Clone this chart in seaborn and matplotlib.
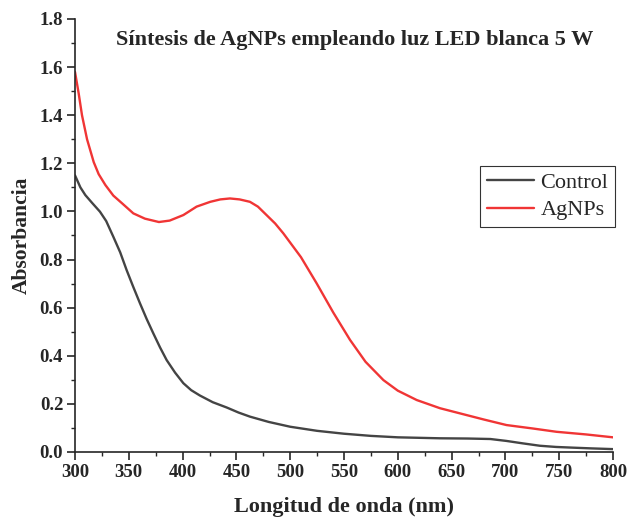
import matplotlib
matplotlib.use("Agg")
import matplotlib.pyplot as plt
from matplotlib.ticker import MultipleLocator, FormatStrFormatter
import seaborn as sns
import pandas as pd

# Data
control_wl = [300, 305, 309.6, 316, 323.2, 329, 335.6, 342, 348, 354, 360.4, 366.6, 372.8, 379,
              385.2, 393, 400.7, 408, 416, 428, 441, 452, 462.6, 480, 500, 525, 550, 575, 600,
              639, 665, 686, 701, 716, 732, 747, 763, 780, 800]
control_abs = [1.15, 1.10, 1.068, 1.035, 0.999, 0.96, 0.895, 0.83, 0.756, 0.688, 0.618, 0.553,
               0.493, 0.435, 0.382, 0.33, 0.286, 0.257, 0.235, 0.207, 0.185, 0.164, 0.147, 0.125,
               0.105, 0.088, 0.076, 0.067, 0.061, 0.057, 0.056, 0.054, 0.046, 0.036, 0.026,
               0.021, 0.018, 0.015, 0.012]

agnps_wl = [300, 303.4, 306.5, 311.2, 317.4, 322, 328.2, 335.6, 343.7, 354.2, 365, 378, 388,
            400.7, 413, 425.7, 435, 444, 453, 462.6, 470, 478, 486, 493.6, 510, 524.6, 540,
            555.6, 570, 586.6, 600, 617.6, 639.2, 660, 680, 701, 725, 747.5, 775, 800]
agnps_abs = [1.58, 1.491, 1.40, 1.30, 1.205, 1.155, 1.11, 1.066, 1.034, 0.992, 0.97, 0.956,
             0.962, 0.985, 1.02, 1.040, 1.05, 1.054, 1.05, 1.040, 1.02, 0.985, 0.95, 0.909,
             0.81, 0.701, 0.58, 0.466, 0.375, 0.299, 0.255, 0.216, 0.182, 0.158, 0.135, 0.112,
             0.098, 0.084, 0.073, 0.061]

df = pd.concat([
    pd.DataFrame({"wl": control_wl, "abs": control_abs, "serie": "Control"}),
    pd.DataFrame({"wl": agnps_wl, "abs": agnps_abs, "serie": "AgNPs"}),
])

sns.set_style("ticks")
plt.rcParams['font.family'] = ['Liberation Serif', 'DejaVu Serif']

fig = plt.figure(figsize=(6.28, 5.2), dpi=100)
ax = fig.add_axes([75/628, 1 - 452/520, (613-75)/628, (452-19)/520])

sns.lineplot(data=df, x="wl", y="abs", hue="serie",
             palette={"Control": "#444444", "AgNPs": "#f03535"},
             linewidth=1.7, ax=ax, sort=False)

ax.set_xlim(300, 800)
ax.set_ylim(0, 1.8)
ax.xaxis.set_major_locator(MultipleLocator(50))
ax.xaxis.set_minor_locator(MultipleLocator(25))
ax.yaxis.set_major_locator(MultipleLocator(0.2))
ax.yaxis.set_minor_locator(MultipleLocator(0.1))
ax.yaxis.set_major_formatter(FormatStrFormatter('%.1f'))
ax.tick_params(which='major', direction='out', length=5.5, width=1.2, labelsize=13.5, pad=3)
ax.tick_params(which='minor', direction='out', length=3, width=1.0)
for lab in ax.get_xticklabels() + ax.get_yticklabels():
    lab.set_fontweight('bold')

for side in ['top', 'right']:
    ax.spines[side].set_visible(False)
for side in ['left', 'bottom']:
    ax.spines[side].set_linewidth(1.2)

ax.set_xlabel("Longitud de onda (nm)", fontsize=16, fontweight='bold', labelpad=12)
ax.set_ylabel("Absorbancia", fontsize=15.5, fontweight='bold', labelpad=6)

ax.text(0.52, 0.975, "Síntesis de AgNPs empleando luz LED blanca 5 W",
        transform=ax.transAxes, ha='center', va='top', fontsize=16, fontweight='bold')

leg = ax.legend(loc='upper right', bbox_to_anchor=((615-75)/538, 1 - (166-19)/433),
                fontsize=16, frameon=True, fancybox=False, edgecolor='black',
                handlelength=2.1, borderpad=0.3, labelspacing=0.3, handletextpad=0.3,
                borderaxespad=0)
leg.get_frame().set_linewidth(0.8)
leg.set_title(None)

fig.savefig("out.png", dpi=100)
